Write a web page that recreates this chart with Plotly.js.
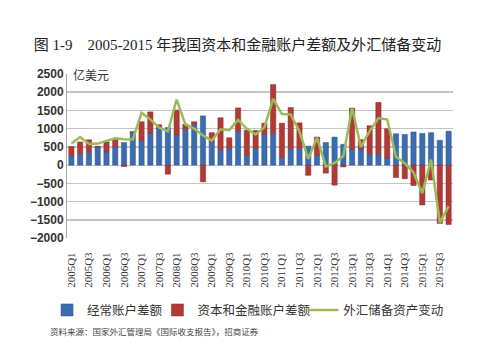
<!DOCTYPE html>
<html>
<head>
<meta charset="utf-8">
<script src="https://cdn.plot.ly/plotly-3.0.1.min.js"></script>
<style>html,body{margin:0;padding:0;background:#fff;}#chart{width:480px;height:360px;}</style>
</head>
<body>
<div id="chart"></div>
<script>
const quarters = [
  "2005Q1","2005Q2","2005Q3","2005Q4","2006Q1","2006Q2","2006Q3","2006Q4",
  "2007Q1","2007Q2","2007Q3","2007Q4","2008Q1","2008Q2","2008Q3","2008Q4",
  "2009Q1","2009Q2","2009Q3","2009Q4","2010Q1","2010Q2","2010Q3","2010Q4",
  "2011Q1","2011Q2","2011Q3","2011Q4","2012Q1","2012Q2","2012Q3","2012Q4",
  "2013Q1","2013Q2","2013Q3","2013Q4","2014Q1","2014Q2","2014Q3","2014Q4",
  "2015Q1","2015Q2","2015Q3","2015Q4"
];
// 经常账户差额
const currentAccount = [
  260, 315, 355, 500, 360, 500, 620, 900,
  680, 880, 1020, 1030, 820, 980, 1120, 1350,
  640, 420, 460, 930, 270, 470, 840, 870,
  220, 450, 450, 520, 270, 620, 770, 570,
  445, 445, 310, 310, 190, 860, 840, 910,
  870, 890, 680, 930
];
// 资本和金融账户差额
const capitalAccount = [
  250, 320, 340, 20, 280, 210, -40, 20,
  510, 580, 90, -250, 690, 140, 70, -460,
  250, 880, 290, 640, 690, 480, 310, 1340,
  930, 1130, 710, -280, 500, -220, -550, -50,
  1120, 255, 770, 1410, 810, -340, -375, -560,
  -1095, -410, -1600, -1630
];
// 外汇储备资产变动
const reserveChange = [
  595, 770, 580, 590, 665, 735, 710, 705,
  1435, 1255, 1025, 925, 1795, 1115, 1000, 815,
  675, 985, 960, 1240, 995, 840, 1035, 1820,
  1400, 1390, 920, 170, 750, -40, 60, 250,
  1565, 500, 930, 1290, 1250, 230, 50, -200,
  -770, 150, -1580, -1125
];
const tickQuarters = quarters.filter((q, i) => i % 2 === 0);

const data = [
  {type:'bar', name:'经常账户差额', x:quarters, y:currentAccount, legend:'legend',
   marker:{color:'#3B6CB0', line:{color:'#2B5390', width:0.5}}},
  {type:'bar', name:'资本和金融账户差额', x:quarters, y:capitalAccount, legend:'legend2',
   marker:{color:'#B13A37', line:{color:'#8E2B29', width:0.5}}},
  {type:'scatter', mode:'lines', name:'外汇储备资产变动', x:quarters, y:reserveChange, legend:'legend3',
   line:{color:'#9BBB59', width:2.5}}
];

const legendFont = {family:'Noto Sans CJK SC', size:12.5, color:'#333'};
function legendAt(xPos) {
  return {orientation:'h', xref:'container', x:xPos, xanchor:'left',
          yref:'container', y:0.138, yanchor:'middle',
          font:legendFont, itemwidth:30, bgcolor:'rgba(0,0,0,0)'};
}

const layout = {
  width:480, height:360,
  margin:{l:67, r:27, t:74, b:122},
  paper_bgcolor:'#fff', plot_bgcolor:'#fff',
  barmode:'relative', bargap:0.4,
  showlegend:true,
  title:{text:'图 1-9    2005-2015 年我国资本和金融账户差额及外汇储备变动',
         x:0.495, xanchor:'center', y:0.875, yanchor:'middle',
         font:{family:'Liberation Serif, Noto Sans CJK SC', size:15, color:'#222'}},
  xaxis:{type:'category', tickmode:'array', tickvals:tickQuarters, ticktext:tickQuarters,
         tickangle:-90, showgrid:false, showline:false,
         ticks:'outside', ticklen:9, tickcolor:'rgba(0,0,0,0)',
         tickfont:{family:'Liberation Serif', size:11, color:'#333'}},
  yaxis:{range:[-2000, 2500], dtick:500, showgrid:true, gridcolor:'#c4c4c4', gridwidth:1.5,
         zeroline:true, zerolinecolor:'#bdbdbd', zerolinewidth:1,
         showline:true, linecolor:'#a8a8a8', linewidth:1, ticks:'',
         tickfont:{family:'Liberation Sans', size:12, color:'#333', weight:'bold'}},
  legend:legendAt(0.098),
  legend2:legendAt(0.328),
  legend3:legendAt(0.632),
  annotations:[
    {text:'亿美元', xref:'paper', yref:'paper', x:0.01, y:1.0, xanchor:'left', yanchor:'middle',
     showarrow:false, font:{family:'Noto Sans CJK SC', size:12, color:'#333'}},
    {text:'资料来源：国家外汇管理局《国际收支报告》，招商证券', xref:'paper', yref:'paper',
     x:-0.05, y:-0.567, xanchor:'left', yanchor:'middle', showarrow:false,
     font:{family:'Noto Sans CJK SC', size:8.5, color:'#444'}}
  ]
};

Plotly.newPlot('chart', data, layout, {displayModeBar:false, staticPlot:true});
</script>
</body>
</html>
